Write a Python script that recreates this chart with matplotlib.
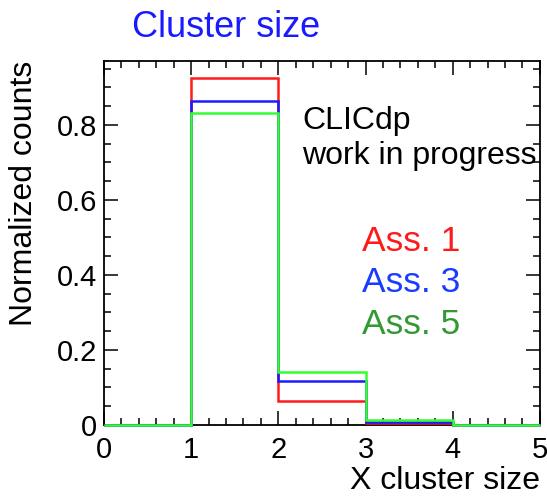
from matplotlib import pyplot as plt
from matplotlib.ticker import MultipleLocator
import numpy as np

plt.rcParams['font.family'] = ['Liberation Sans', 'DejaVu Sans']

# bin edges and normalized counts
edges = [0, 1, 2, 3, 4, 5]
ass1 = [0.0, 0.925, 0.063, 0.005, 0.0]
ass3 = [0.0, 0.864, 0.118, 0.009, 0.0]
ass5 = [0.0, 0.833, 0.142, 0.013, 0.0]

labels = ["Ass. 1", "Ass. 3", "Ass. 5"]
line_colors = ["#ff1a1a", "#1a1aff", "#33ff33"]
text_colors = ["#ff1a1a", "#1a3cff", "#339933"]

fig = plt.figure(figsize=(5.47, 4.97), dpi=100)
ax = fig.add_axes([0.190, 0.145, 0.797, 0.732])

for vals, col in zip([ass1, ass3, ass5], line_colors):
    ax.stairs(vals, edges, color=col, linewidth=1.8, baseline=0, zorder=3, clip_on=False)

ax.set_xlim(0, 5)
ax.set_ylim(0, 0.97)

ax.xaxis.set_major_locator(MultipleLocator(1))
ax.xaxis.set_minor_locator(MultipleLocator(0.2))
ax.yaxis.set_minor_locator(MultipleLocator(0.05))
ax.set_yticks([0, 0.2, 0.4, 0.6, 0.8])
ax.set_yticklabels(["0", "0.2", "0.4", "0.6", "0.8"])

ax.tick_params(which='both', direction='in', top=True, right=True, labelsize=21, width=1.1)
ax.tick_params(which='major', length=10, pad=5)
ax.tick_params(which='minor', length=5)
ax.tick_params(axis='x', which='major', pad=8)
for sp in ax.spines.values():
    sp.set_linewidth(1.3)

ax.set_xlabel("X cluster size", fontsize=23, loc='right')
ax.set_ylabel("Normalized counts", fontsize=23, loc='top')
ax.xaxis.set_label_coords(1.0, -0.112)
ax.yaxis.set_label_coords(-0.15, 1.0)

fig.text(0.242, 0.945, "Cluster size", color="#1a1aff", fontsize=26, ha='left', va='center')

ax.text(0.455, 0.835, "CLICdp", transform=ax.transAxes, fontsize=23, ha='left', va='center')
ax.text(0.455, 0.74, "work in progress", transform=ax.transAxes, fontsize=23, ha='left', va='center')

for i, (lab, col) in enumerate(zip(labels, text_colors)):
    ax.text(0.592, 0.505 - i * 0.114, lab, transform=ax.transAxes, fontsize=25.5,
            color=col, ha='left', va='center')

fig.savefig("out.png", dpi=100)
